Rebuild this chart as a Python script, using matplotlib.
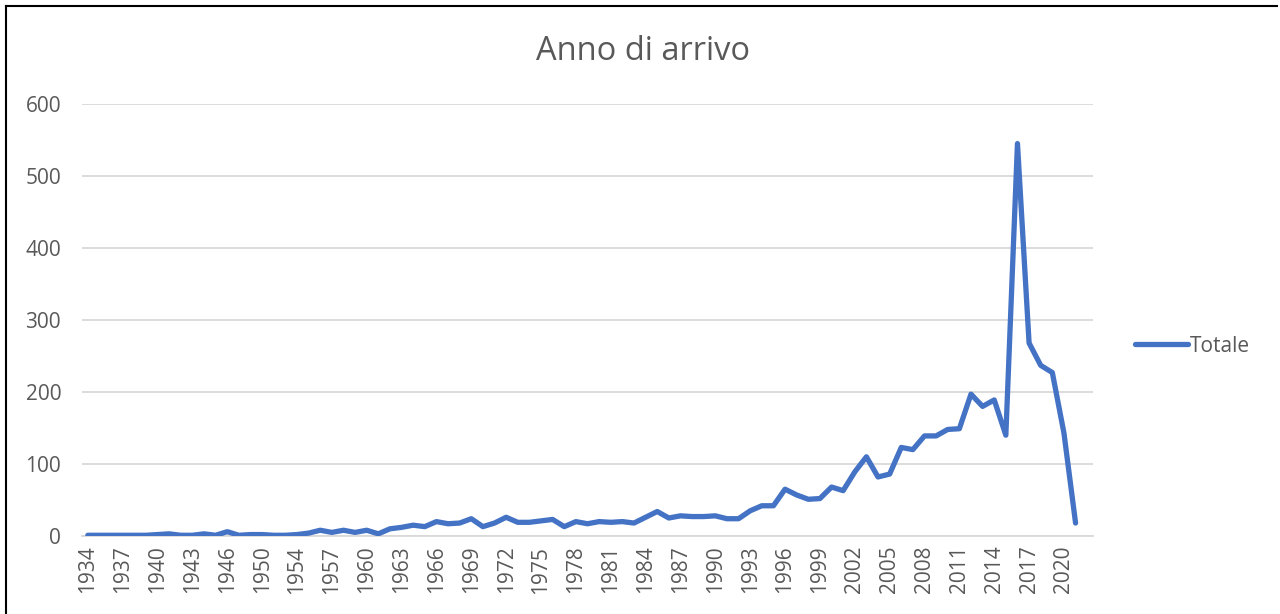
# Anno di arrivo - line chart
import numpy as np
import matplotlib.pyplot as plt
from matplotlib.lines import Line2D

# categories (years as they appear on the axis)
anni = list(range(1934, 1947)) + [1947, 1949, 1950, 1951, 1953] + list(range(1954, 2022))
totale = [1, 1, 1, 1, 1, 1, 2, 3, 1, 1,
          3, 1, 6, 1, 2, 2, 1, 1, 2, 4,
          8, 5, 8, 5, 8, 3, 10, 12, 15, 13,
          20, 17, 18, 24, 13, 18, 26, 19, 19, 21,
          23, 13, 20, 17, 20, 19, 20, 18, 26, 34,
          25, 28, 27, 27, 28, 24, 24, 35, 42, 42,
          65, 57, 51, 52, 68, 63, 89, 110, 82, 86,
          123, 120, 139, 139, 148, 149, 197, 180, 189, 140,
          545, 268, 237, 227, 143, 18]
y_ticks = [0, 100, 200, 300, 400, 500, 600]

plt.rcParams['font.family'] = ['Open Sans', 'DejaVu Sans']
grigio = '#595959'
blu = '#4472C4'

fig = plt.figure(figsize=(12.8, 6.14), dpi=100)
ax = fig.add_axes([82/1280, 1 - 536/614, (1093 - 82)/1280, (536 - 104)/614])

x = np.arange(len(anni))
ax.plot(x, totale, color=blu, lw=3.8, solid_joinstyle='round', solid_capstyle='round', zorder=3)

ax.set_xlim(-0.5, len(anni) + 0.5)
ax.set_ylim(0, 600)
ax.set_yticks(y_ticks)
ax.set_yticklabels([str(v) for v in y_ticks], color=grigio, fontsize=15)
ax.set_xticks(x[::3])
ax.set_xticklabels([str(a) for a in anni[::3]], rotation=90, color=grigio, fontsize=15)
ax.tick_params(axis='y', length=0, pad=15)
ax.tick_params(axis='x', length=0, pad=7)

ax.grid(axis='y', color='#D9D9D9', lw=1.3, zorder=0)
for s in ['top', 'right', 'left']:
    ax.spines[s].set_visible(False)
ax.spines['bottom'].set_color('#D9D9D9')
ax.spines['bottom'].set_linewidth(1.3)

fig.text(0.502, 1 - 51/614, 'Anno di arrivo', ha='center', va='center', fontsize=23.5, color=grigio)

handle = Line2D([], [], color=blu, lw=3.8, solid_capstyle='round')
fig.legend([handle], ['Totale'], loc='center left', bbox_to_anchor=(1116/1280, 1 - 346/614),
           frameon=False, handlelength=2.55, handletextpad=0.1, fontsize=15, labelcolor=grigio)

# border of chart area
fig.add_artist(Line2D([6/1280, 6/1280], [0, 1 - 6/614], color='black', lw=1.5, transform=fig.transFigure))
fig.add_artist(Line2D([6/1280, 1277/1280], [1 - 6/614, 1 - 6/614], color='black', lw=1.5, transform=fig.transFigure))

fig.savefig('out.png', dpi=100)
